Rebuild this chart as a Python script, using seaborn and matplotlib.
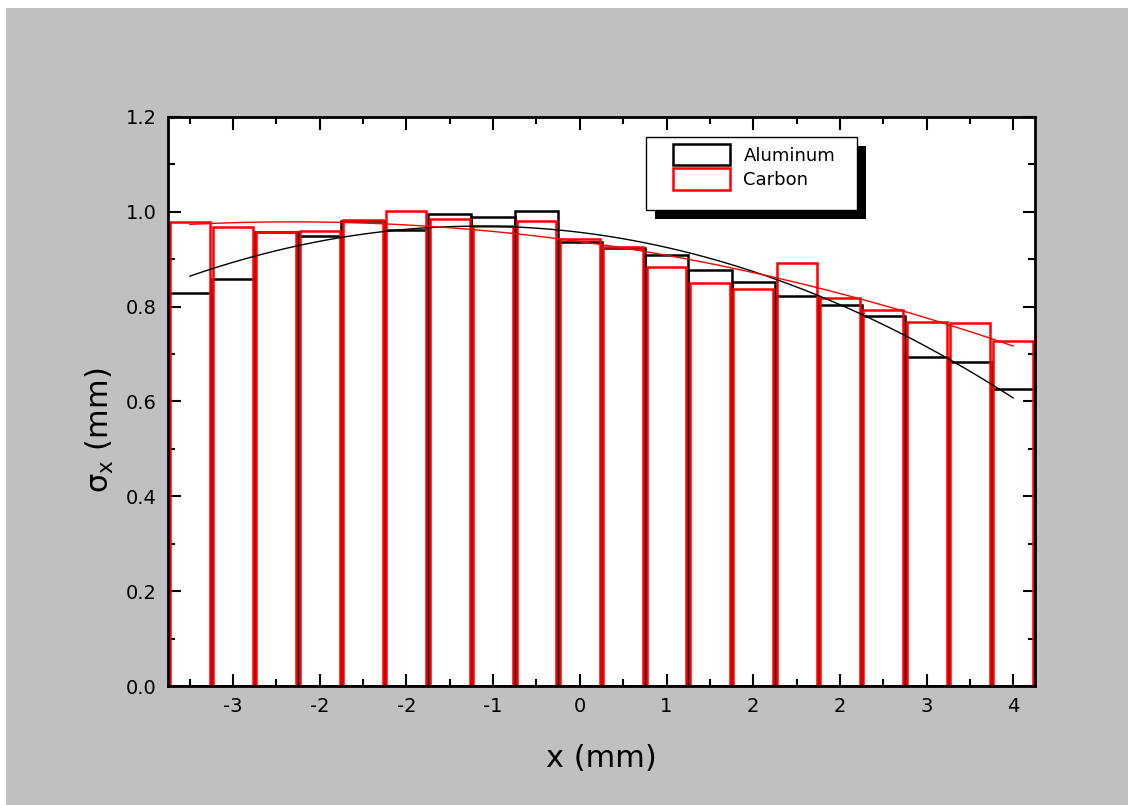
import numpy as np
import seaborn as sns
import matplotlib.pyplot as plt
from matplotlib.patches import Patch, Rectangle
from matplotlib.ticker import MultipleLocator, FixedLocator, FixedFormatter

# bin centres (mm) and beam width per bin
x_mm = [-3.6, -3.2, -2.8, -2.4, -2.0, -1.6, -1.2, -0.8, -0.4, 0.0,
        0.4, 0.8, 1.2, 1.6, 2.0, 2.4, 2.8, 3.2, 3.6, 4.0]
aluminum = [0.828, 0.859, 0.957, 0.948, 0.981, 0.961, 0.995, 0.989, 1.001, 0.937,
            0.923, 0.909, 0.878, 0.852, 0.823, 0.804, 0.781, 0.694, 0.683, 0.626]
carbon = [0.978, 0.969, 0.957, 0.959, 0.982, 1.001, 0.985, 0.970, 0.981, 0.943,
          0.926, 0.883, 0.850, 0.838, 0.892, 0.818, 0.792, 0.768, 0.765, 0.727]

xtick_pos = [-3.2, -2.4, -1.6, -0.8, 0.0, 0.8, 1.6, 2.4, 3.2, 4.0]
xtick_labels = ["-3", "-2", "-2", "-1", "0", "1", "2", "2", "3", "4"]

sns.set_style("ticks")
plt.rcParams['font.family'] = ['DejaVu Sans']
plt.rcParams.update({'text.color': 'black', 'axes.labelcolor': 'black',
                     'xtick.color': 'black', 'ytick.color': 'black'})

W, H = 1128, 805
fig = plt.figure(figsize=(W / 100, H / 100), dpi=100, facecolor='white')
# gray page behind the plot (thin white strip on top/left like the original)
fig.patches.append(Rectangle((6 / W, 0), 1, 1 - 8 / H, transform=fig.transFigure,
                             facecolor='#c0c0c0', edgecolor='none', zorder=-10))
ax = fig.add_axes([168 / W, 1 - 686 / H, 867 / W, 569 / H])
ax.set_facecolor('white')

# black bars touch each other, red ones sit just inside them
sns.barplot(x=x_mm, y=aluminum, native_scale=True, width=1.0, fill=False,
            color='black', linewidth=1.8, errorbar=None, ax=ax)
sns.barplot(x=x_mm, y=carbon, native_scale=True, width=0.92, fill=False,
            color='red', linewidth=1.8, errorbar=None, ax=ax)

sns.regplot(x=x_mm, y=aluminum, order=2, ci=None, scatter=False,
            line_kws=dict(color='black', lw=1), ax=ax)
sns.regplot(x=x_mm, y=carbon, order=2, ci=None, scatter=False,
            line_kws=dict(color='red', lw=1), ax=ax)

ax.set_xlim(-3.8, 4.2)
ax.set_ylim(0, 1.2)
ax.xaxis.set_major_locator(FixedLocator(xtick_pos))
ax.xaxis.set_major_formatter(FixedFormatter(xtick_labels))
ax.xaxis.set_minor_locator(MultipleLocator(0.4))
ax.yaxis.set_major_locator(MultipleLocator(0.2))
ax.yaxis.set_minor_locator(MultipleLocator(0.1))
ax.yaxis.set_major_formatter(plt.FormatStrFormatter('%.1f'))

ax.tick_params(which='both', direction='in', top=True, right=True, width=1.5,
               labelsize=14, pad=8)
ax.tick_params(which='major', length=9)
ax.tick_params(which='minor', length=5)
for s in ax.spines.values():
    s.set_visible(True)
    s.set_linewidth(2)
    s.set_color('black')
    s.set_zorder(7)

ax.set_xlabel('x (mm)', fontsize=22, labelpad=20)
ax.set_ylabel(r'σ$_{\mathregular{x}}$ (mm)', fontsize=22)
ax.yaxis.set_label_coords(-0.06, 0.45)

# legend: framed box with a hard black drop shadow
bx0, bx1 = (646 - 168) / 867, (857 - 168) / 867
by1, by0 = (686 - 137) / 569, (686 - 210) / 569
ax.add_patch(Rectangle((bx0 + 9 / 867, by0 - 9 / 569), bx1 - bx0, by1 - by0,
                       transform=ax.transAxes, facecolor='black', edgecolor='none',
                       zorder=5.5, clip_on=False))
ax.add_patch(Rectangle((bx0, by0), bx1 - bx0, by1 - by0, transform=ax.transAxes,
                       facecolor='white', edgecolor='black', lw=1,
                       zorder=5.6, clip_on=False))

handles = [Patch(facecolor='white', edgecolor='black', lw=1.8, label='Aluminum'),
           Patch(facecolor='white', edgecolor='red', lw=1.8, label='Carbon')]
leg = ax.legend(handles=handles, loc='upper left',
                bbox_to_anchor=((673 - 168) / 867, (686 - 144) / 569),
                borderaxespad=0, borderpad=0, fontsize=13, handlelength=3.15,
                handleheight=1.45, handletextpad=0.75, labelspacing=0.15,
                frameon=False)
leg.set_zorder(6)

fig.savefig('out.png', dpi=100, facecolor=fig.get_facecolor())
